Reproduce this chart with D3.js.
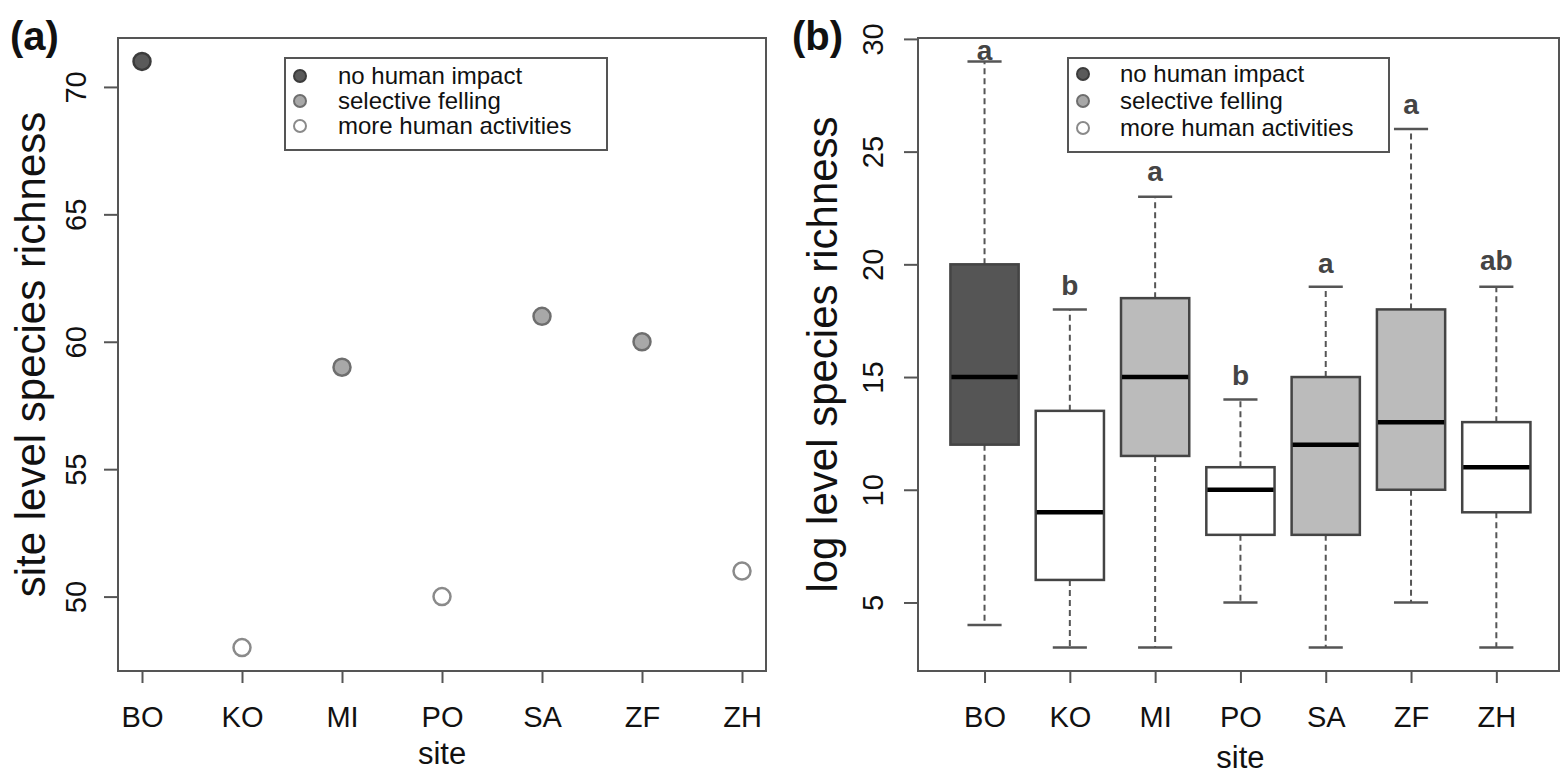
<!DOCTYPE html>
<html><head><meta charset="utf-8">
<script src="https://cdn.jsdelivr.net/npm/d3@7/dist/d3.min.js"></script>
<style>html,body{margin:0;padding:0;background:#fff;} svg{display:block;font-family:"Liberation Sans",Arial,sans-serif;}</style>
</head><body>
<svg id="chart" width="1560" height="776"></svg>
<script>
// ---- data ----
const sites = ["BO","KO","MI","PO","SA","ZF","ZH"];
const siteImpact = ["none","more","selective","more","selective","selective","more"];
const siteRichness = [71, 48, 59, 50, 61, 60, 51];
const richnessTicks = [50, 55, 60, 65, 70];

const logMin = [4, 3, 3, 5, 3, 5, 3];
const logQ1  = [12, 6, 11.5, 8, 8, 10, 9];
const logMed = [15, 9, 15, 10, 12, 13, 11];
const logQ3  = [20, 13.5, 18.5, 11, 15, 18, 13];
const logMax = [29, 18, 23, 14, 19, 26, 19];
const groupLetters = ["a","b","a","b","a","a","ab"];
const letterLevel = [29.5, 19.05, 24.1, 15.05, 20.05, 27.1, 20.15];
const logTicks = [5, 10, 15, 20, 25, 30];

const legendLabels = ["no human impact","selective felling","more human activities"];
const legendKeys = ["none","selective","more"];

// ---- styles ----
const pointFill = {none:"#5a5a5a", selective:"#a8a8a8", more:"#ffffff"};
const pointStroke = {none:"#3c3c3c", selective:"#6e6e6e", more:"#8a8a8a"};
const boxFill = {none:"#555555", selective:"#bbbbbb", more:"#ffffff"};
const axisCol = "#555";

const svg = d3.select("#chart");

function frame(g, x0, x1, y0, y1){
  g.append("rect").attr("x",x0).attr("y",y0).attr("width",x1-x0).attr("height",y1-y0)
   .attr("fill","none").attr("stroke",axisCol).attr("stroke-width",2);
}

function legend(g, x, y, w, h, dotX, textX, ys){
  g.append("rect").attr("x",x).attr("y",y).attr("width",w).attr("height",h)
    .attr("fill","#fff").attr("stroke","#555").attr("stroke-width",2);
  legendKeys.forEach((k,i)=>{
    g.append("circle").attr("cx",dotX).attr("cy",ys[i]).attr("r",6)
      .attr("fill",pointFill[k]).attr("stroke",pointStroke[k]).attr("stroke-width",2);
    g.append("text").attr("x",textX).attr("y",ys[i]).attr("dy","0.35em")
      .attr("font-size",24).attr("fill","#111").text(legendLabels[i]);
  });
}

// ================= Panel (a) =================
const A = {l:118, r:766, t:38, b:671};
const xa = d3.scaleLinear().domain([0.76, 7.24]).range([A.l, A.r]);
const ya = d3.scaleLinear().domain([47.08, 71.92]).range([A.b, A.t]);
const ga = svg.append("g");

const xAxA = ga.append("g").attr("transform",`translate(0,${A.b})`)
  .call(d3.axisBottom(xa).tickValues(d3.range(1,8)).tickSize(12).tickFormat(d=>sites[d-1]));
xAxA.select(".domain").remove();
xAxA.selectAll("line").attr("stroke",axisCol).attr("stroke-width",2);
xAxA.selectAll("text").attr("font-size",29).attr("fill","#111").attr("y",null).attr("dy",null)
  .attr("transform","translate(0,46)").attr("dominant-baseline","central");

const yAxA = ga.append("g").attr("transform",`translate(${A.l},0)`)
  .call(d3.axisLeft(ya).tickValues(richnessTicks).tickSize(14));
yAxA.select(".domain").remove();
yAxA.selectAll("line").attr("stroke",axisCol).attr("stroke-width",2);
yAxA.selectAll("text").attr("font-size",29).attr("fill","#111")
  .attr("x",null).attr("dy",null).attr("text-anchor","middle").attr("dominant-baseline","central")
  .attr("transform","translate(-42,0) rotate(-90)");

frame(ga, A.l, A.r, A.t, A.b);

ga.selectAll("circle.pt").data(sites).join("circle").attr("class","pt")
  .attr("cx",(d,i)=>xa(i+1)).attr("cy",(d,i)=>ya(siteRichness[i])).attr("r",8.5)
  .attr("fill",(d,i)=>pointFill[siteImpact[i]]).attr("stroke",(d,i)=>pointStroke[siteImpact[i]])
  .attr("stroke-width",2.5);

legend(ga, 285, 58, 322, 92, 300, 338, [76, 101, 126]);

ga.append("text").attr("x",(A.l+A.r)/2).attr("y",753).attr("text-anchor","middle")
  .attr("dominant-baseline","central").attr("font-size",31).attr("fill","#111").text("site");
ga.append("text").attr("transform",`translate(30,${(A.t+A.b)/2}) rotate(-90)`)
  .attr("text-anchor","middle").attr("dominant-baseline","central")
  .attr("font-size",42).attr("fill","#111").text("site level species richness");
ga.append("text").attr("x",10).attr("y",50).attr("font-size",40).attr("font-weight","bold")
  .attr("fill","#111").text("(a)");

// ================= Panel (b) =================
const B = {l:918, r:1559, t:38, b:671};
const xb = d3.scaleLinear().domain([0.22, 7.78]).range([B.l, B.l + (7.56*85.3)]);
const yb = d3.scaleLinear().domain([1.96, 30.04]).range([B.b, B.t]);
const gb = svg.append("g");

const xAxB = gb.append("g").attr("transform",`translate(0,${B.b})`)
  .call(d3.axisBottom(xb).tickValues(d3.range(1,8)).tickSize(12).tickFormat(d=>sites[d-1]));
xAxB.select(".domain").remove();
xAxB.selectAll("line").attr("stroke",axisCol).attr("stroke-width",2);
xAxB.selectAll("text").attr("font-size",29).attr("fill","#111").attr("y",null).attr("dy",null)
  .attr("transform","translate(0,46)").attr("dominant-baseline","central");

const yAxB = gb.append("g").attr("transform",`translate(${B.l},0)`)
  .call(d3.axisLeft(yb).tickValues(logTicks).tickSize(14));
yAxB.select(".domain").remove();
yAxB.selectAll("line").attr("stroke",axisCol).attr("stroke-width",2);
yAxB.selectAll("text").attr("font-size",29).attr("fill","#111")
  .attr("x",null).attr("dy",null).attr("text-anchor","middle").attr("dominant-baseline","central")
  .attr("transform","translate(-45,0) rotate(-90)");

frame(gb, B.l, B.r, B.t, B.b);

const bw = (xb(1.4)-xb(1));
const capHalf = bw/2;
const boxes = gb.selectAll("g.box").data(sites).join("g").attr("class","box");
boxes.append("line").attr("x1",(d,i)=>xb(i+1)).attr("x2",(d,i)=>xb(i+1))
  .attr("y1",(d,i)=>yb(logQ3[i])).attr("y2",(d,i)=>yb(logMax[i]))
  .attr("stroke","#555").attr("stroke-width",2).attr("stroke-dasharray","6,4");
boxes.append("line").attr("x1",(d,i)=>xb(i+1)).attr("x2",(d,i)=>xb(i+1))
  .attr("y1",(d,i)=>yb(logQ1[i])).attr("y2",(d,i)=>yb(logMin[i]))
  .attr("stroke","#555").attr("stroke-width",2).attr("stroke-dasharray","6,4");
boxes.append("line").attr("x1",(d,i)=>xb(i+1)-capHalf).attr("x2",(d,i)=>xb(i+1)+capHalf)
  .attr("y1",(d,i)=>yb(logMax[i])).attr("y2",(d,i)=>yb(logMax[i]))
  .attr("stroke","#555").attr("stroke-width",2.5);
boxes.append("line").attr("x1",(d,i)=>xb(i+1)-capHalf).attr("x2",(d,i)=>xb(i+1)+capHalf)
  .attr("y1",(d,i)=>yb(logMin[i])).attr("y2",(d,i)=>yb(logMin[i]))
  .attr("stroke","#555").attr("stroke-width",2.5);
boxes.append("rect").attr("x",(d,i)=>xb(i+1)-bw).attr("width",2*bw)
  .attr("y",(d,i)=>yb(logQ3[i])).attr("height",(d,i)=>yb(logQ1[i])-yb(logQ3[i]))
  .attr("fill",(d,i)=>boxFill[siteImpact[i]]).attr("stroke","#444").attr("stroke-width",2.5);
boxes.append("line").attr("x1",(d,i)=>xb(i+1)-bw+1).attr("x2",(d,i)=>xb(i+1)+bw-1)
  .attr("y1",(d,i)=>yb(logMed[i])).attr("y2",(d,i)=>yb(logMed[i]))
  .attr("stroke","#000").attr("stroke-width",4.5);
boxes.append("text").attr("x",(d,i)=>xb(i+1)).attr("y",(d,i)=>yb(letterLevel[i]))
  .attr("text-anchor","middle").attr("dominant-baseline","central")
  .attr("font-size",28).attr("font-weight","bold").attr("fill","#444")
  .text((d,i)=>groupLetters[i]);

legend(gb, 1068, 58, 321, 94, 1083, 1120, [74, 101, 128]);

gb.append("text").attr("x",xb(4)).attr("y",757).attr("text-anchor","middle")
  .attr("dominant-baseline","central").attr("font-size",31).attr("fill","#111").text("site");
gb.append("text").attr("transform",`translate(822,${(B.t+B.b)/2}) rotate(-90)`)
  .attr("text-anchor","middle").attr("dominant-baseline","central")
  .attr("font-size",42).attr("fill","#111").text("log level species richness");
gb.append("text").attr("x",792).attr("y",50).attr("font-size",40).attr("font-weight","bold")
  .attr("fill","#111").text("(b)");
</script>
</body></html>
